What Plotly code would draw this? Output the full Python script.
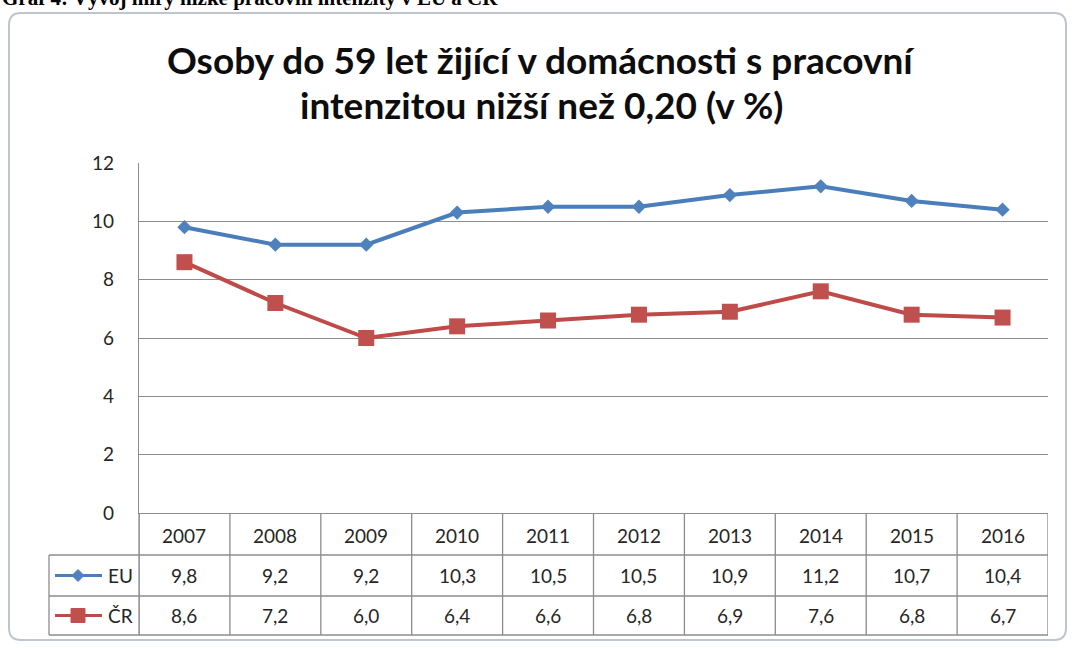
import plotly.graph_objects as go

years = ["2007", "2008", "2009", "2010", "2011", "2012", "2013", "2014", "2015", "2016"]
eu = [9.8, 9.2, 9.2, 10.3, 10.5, 10.5, 10.9, 11.2, 10.7, 10.4]
cr = [8.6, 7.2, 6.0, 6.4, 6.6, 6.8, 6.9, 7.6, 6.8, 6.7]
series_names = ["EU", "ČR"]
title_lines = ["Osoby do 59 let žijící v domácnosti s pracovní", "intenzitou nižší než 0,20 (v %)"]
header_text = "Graf 4: Vývoj míry nízké pracovní intenzity v EU a ČR"

W_FIG, H_FIG = 1072, 648
L, R, T, B = 139, 24, 163, 135
PW = W_FIG - L - R
PH = H_FIG - T - B
BOT = T + PH  # pixel y of plot bottom


def fx(px):
    return (px - L) / PW


def fy(py):
    return (BOT - py) / PH


BLUE = "#4A7EBB"
BLUE_M = "#4F81BD"
RED = "#BE4B48"
RED_M = "#C0504D"
GRID = "#8C8C8C"
TXT = "#262626"
FONT = "Lato"

xs = list(range(len(years)))

fig = go.Figure()
fig.add_trace(go.Scatter(x=xs, y=eu, mode="lines+markers", name=series_names[0],
                         line=dict(color=BLUE, width=4),
                         marker=dict(symbol="diamond", size=11, color=BLUE_M)))
fig.add_trace(go.Scatter(x=xs, y=cr, mode="lines+markers", name=series_names[1],
                         line=dict(color=RED, width=4),
                         marker=dict(symbol="square", size=16, color=RED_M)))

shapes = []
ann = []

# outer chart frame with rounded corners
px0, py0, px1, py1, r = 9, 13, 1066, 640, 12
path = (f"M {fx(px0 + r)} {fy(py0)} L {fx(px1 - r)} {fy(py0)} Q {fx(px1)} {fy(py0)} {fx(px1)} {fy(py0 + r)} "
        f"L {fx(px1)} {fy(py1 - r)} Q {fx(px1)} {fy(py1)} {fx(px1 - r)} {fy(py1)} "
        f"L {fx(px0 + r)} {fy(py1)} Q {fx(px0)} {fy(py1)} {fx(px0)} {fy(py1 - r)} "
        f"L {fx(px0)} {fy(py0 + r)} Q {fx(px0)} {fy(py0)} {fx(px0 + r)} {fy(py0)} Z")
shapes.append(dict(type="path", path=path, xref="paper", yref="paper",
                   line=dict(color="#BFC5CC", width=2), layer="below"))

# data table grid
row_tops = [513, 555, 596, 635]
n = len(years)
for i in range(n + 1):
    shapes.append(dict(type="line", xref="x", yref="paper", x0=i - 0.5, x1=i - 0.5,
                       y0=fy(513), y1=fy(635), line=dict(color=GRID, width=1.3)))
for py in row_tops[1:]:
    shapes.append(dict(type="line", xref="paper", yref="paper", x0=fx(49), x1=1,
                       y0=fy(py), y1=fy(py), line=dict(color=GRID, width=1.3)))
shapes.append(dict(type="line", xref="paper", yref="paper", x0=fx(49), x1=fx(49),
                   y0=fy(555), y1=fy(635), line=dict(color=GRID, width=1.3)))
shapes.append(dict(type="line", xref="paper", yref="paper", x0=0, x1=0,
                   y0=0, y1=fy(635), line=dict(color=GRID, width=1.3)))

row_mid = [(513 + 555) / 2 + 1, (555 + 596) / 2, (596 + 635) / 2]
for i, yr in enumerate(years):
    ann.append(dict(x=i, y=fy(row_mid[0]), xref="x", yref="paper", text=yr, showarrow=False,
                    font=dict(family=FONT, size=19, color=TXT), yanchor="middle"))
    ann.append(dict(x=i, y=fy(row_mid[1]), xref="x", yref="paper",
                    text=f"{eu[i]:.1f}".replace(".", ","), showarrow=False,
                    font=dict(family=FONT, size=19, color=TXT), yanchor="middle"))
    ann.append(dict(x=i, y=fy(row_mid[2]), xref="x", yref="paper",
                    text=f"{cr[i]:.1f}".replace(".", ","), showarrow=False,
                    font=dict(family=FONT, size=19, color=TXT), yanchor="middle"))

# legend keys in table
for k, (nm, lc, mc, sym) in enumerate([(series_names[0], BLUE, BLUE_M, "diamond"),
                                        (series_names[1], RED, RED_M, "square")]):
    ym = row_mid[k + 1]
    shapes.append(dict(type="line", xref="paper", yref="paper", x0=fx(55), x1=fx(102),
                       y0=fy(ym), y1=fy(ym), line=dict(color=lc, width=3)))
    if sym == "diamond":
        d = 6
        shapes.append(dict(type="path", xref="paper", yref="paper",
                           path=f"M {fx(78 - d)} {fy(ym)} L {fx(78)} {fy(ym - d)} L {fx(78 + d)} {fy(ym)} L {fx(78)} {fy(ym + d)} Z",
                           fillcolor=mc, line=dict(color=mc, width=1)))
    else:
        d = 7
        shapes.append(dict(type="rect", xref="paper", yref="paper",
                           x0=fx(78 - d), x1=fx(78 + d), y0=fy(ym - d), y1=fy(ym + d),
                           fillcolor=mc, line=dict(color=mc, width=1)))
    ann.append(dict(x=fx(106), y=fy(ym), xref="paper", yref="paper", text=nm, showarrow=False,
                    xanchor="left", yanchor="middle", font=dict(family=FONT, size=19, color=TXT)))

# titles
ann.append(dict(x=fx(541), y=fy(59), xref="paper", yref="paper", text="<b>" + title_lines[0] + "</b>",
                showarrow=False, xanchor="center", yanchor="middle",
                font=dict(family=FONT, size=37, color="#0D0D0D")))
ann.append(dict(x=fx(541), y=fy(104), xref="paper", yref="paper", text="<b>" + title_lines[1] + "</b>",
                showarrow=False, xanchor="center", yanchor="middle",
                font=dict(family=FONT, size=37, color="#0D0D0D")))
# cut-off document heading at the top
ann.append(dict(x=fx(0), y=fy(-2), xref="paper", yref="paper", text="<b>" + header_text + "</b>",
                showarrow=False, xanchor="left", yanchor="middle",
                font=dict(family="Liberation Serif", size=21, color="#000000")))

fig.update_layout(
    width=W_FIG, height=H_FIG,
    margin=dict(l=L, r=R, t=T, b=B, autoexpand=False),
    paper_bgcolor="white", plot_bgcolor="white",
    showlegend=False,
    shapes=shapes, annotations=ann,
    xaxis=dict(range=[-0.5, n - 0.5], showticklabels=False, showgrid=False, zeroline=False,
               showline=True, linecolor=GRID, linewidth=1.3, ticks=""),
    yaxis=dict(range=[0, 12], dtick=2, tick0=0, showgrid=True, gridcolor=GRID, gridwidth=1.3,
               zeroline=False, showline=True, linecolor=GRID, linewidth=1.3, ticks="",
               ticklabelstandoff=20, tickfont=dict(family=FONT, size=19, color=TXT)),
)

fig.write_html("out.html", config={"displayModeBar": False},
               post_script="document.body.style.margin='0px';")
